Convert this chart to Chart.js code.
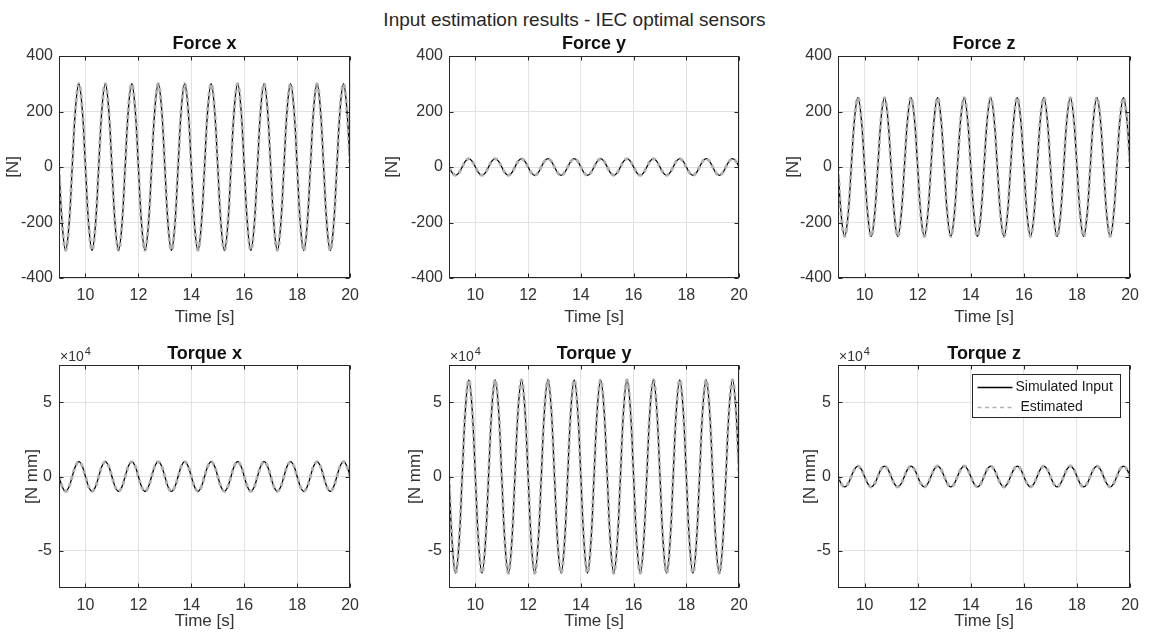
<!DOCTYPE html>
<html>
<head>
<meta charset="utf-8">
<script src="https://cdn.jsdelivr.net/npm/chart.js@4.4.0/dist/chart.umd.min.js"></script>
<style>
  body { margin: 0; background: #fff; width: 1149px; height: 632px; position: relative; overflow: hidden; font-family: "Liberation Sans", Arial, sans-serif; }
  #suptitle { position: absolute; left: 0; top: 10px; width: 1149px; text-align: center; font-size: 19px; line-height: 1; color: #262626; }
  .cell { position: absolute; }
</style>
</head>
<body>
<div id="suptitle">Input estimation results - IEC optimal sensors</div>
<script>
// Time axis, 1/8 s steps
const time = [
  9, 9.125, 9.25, 9.375, 9.5, 9.625, 9.75, 9.875,
  10, 10.125, 10.25, 10.375, 10.5, 10.625, 10.75, 10.875,
  11, 11.125, 11.25, 11.375, 11.5, 11.625, 11.75, 11.875,
  12, 12.125, 12.25, 12.375, 12.5, 12.625, 12.75, 12.875,
  13, 13.125, 13.25, 13.375, 13.5, 13.625, 13.75, 13.875,
  14, 14.125, 14.25, 14.375, 14.5, 14.625, 14.75, 14.875,
  15, 15.125, 15.25, 15.375, 15.5, 15.625, 15.75, 15.875,
  16, 16.125, 16.25, 16.375, 16.5, 16.625, 16.75, 16.875,
  17, 17.125, 17.25, 17.375, 17.5, 17.625, 17.75, 17.875,
  18, 18.125, 18.25, 18.375, 18.5, 18.625, 18.75, 18.875,
  19, 19.125, 19.25, 19.375, 19.5, 19.625, 19.75, 19.875,
  20
];

// Force [N]
const forceX = [
  0, -212, -300, -212, 0, 212, 300, 212,
  0, -212, -300, -212, 0, 212, 300, 212,
  0, -212, -300, -212, 0, 212, 300, 212,
  0, -212, -300, -212, 0, 212, 300, 212,
  0, -212, -300, -212, 0, 212, 300, 212,
  0, -212, -300, -212, 0, 212, 300, 212,
  0, -212, -300, -212, 0, 212, 300, 212,
  0, -212, -300, -212, 0, 212, 300, 212,
  0, -212, -300, -212, 0, 212, 300, 212,
  0, -212, -300, -212, 0, 212, 300, 212,
  0, -212, -300, -212, 0, 212, 300, 212,
  0
];
const forceY = [
  0, -21, -30, -21, 0, 21, 30, 21,
  0, -21, -30, -21, 0, 21, 30, 21,
  0, -21, -30, -21, 0, 21, 30, 21,
  0, -21, -30, -21, 0, 21, 30, 21,
  0, -21, -30, -21, 0, 21, 30, 21,
  0, -21, -30, -21, 0, 21, 30, 21,
  0, -21, -30, -21, 0, 21, 30, 21,
  0, -21, -30, -21, 0, 21, 30, 21,
  0, -21, -30, -21, 0, 21, 30, 21,
  0, -21, -30, -21, 0, 21, 30, 21,
  0, -21, -30, -21, 0, 21, 30, 21,
  0
];
const forceZ = [
  0, -177, -250, -177, 0, 177, 250, 177,
  0, -177, -250, -177, 0, 177, 250, 177,
  0, -177, -250, -177, 0, 177, 250, 177,
  0, -177, -250, -177, 0, 177, 250, 177,
  0, -177, -250, -177, 0, 177, 250, 177,
  0, -177, -250, -177, 0, 177, 250, 177,
  0, -177, -250, -177, 0, 177, 250, 177,
  0, -177, -250, -177, 0, 177, 250, 177,
  0, -177, -250, -177, 0, 177, 250, 177,
  0, -177, -250, -177, 0, 177, 250, 177,
  0, -177, -250, -177, 0, 177, 250, 177,
  0
];

// Torque [N mm]
const torqueX = [
  0, -7070, -10000, -7070, 0, 7070, 10000, 7070,
  0, -7070, -10000, -7070, 0, 7070, 10000, 7070,
  0, -7070, -10000, -7070, 0, 7070, 10000, 7070,
  0, -7070, -10000, -7070, 0, 7070, 10000, 7070,
  0, -7070, -10000, -7070, 0, 7070, 10000, 7070,
  0, -7070, -10000, -7070, 0, 7070, 10000, 7070,
  0, -7070, -10000, -7070, 0, 7070, 10000, 7070,
  0, -7070, -10000, -7070, 0, 7070, 10000, 7070,
  0, -7070, -10000, -7070, 0, 7070, 10000, 7070,
  0, -7070, -10000, -7070, 0, 7070, 10000, 7070,
  0, -7070, -10000, -7070, 0, 7070, 10000, 7070,
  0
];
const torqueY = [
  0, -45960, -65000, -45960, 0, 45960, 65000, 45960,
  0, -45960, -65000, -45960, 0, 45960, 65000, 45960,
  0, -45960, -65000, -45960, 0, 45960, 65000, 45960,
  0, -45960, -65000, -45960, 0, 45960, 65000, 45960,
  0, -45960, -65000, -45960, 0, 45960, 65000, 45960,
  0, -45960, -65000, -45960, 0, 45960, 65000, 45960,
  0, -45960, -65000, -45960, 0, 45960, 65000, 45960,
  0, -45960, -65000, -45960, 0, 45960, 65000, 45960,
  0, -45960, -65000, -45960, 0, 45960, 65000, 45960,
  0, -45960, -65000, -45960, 0, 45960, 65000, 45960,
  0, -45960, -65000, -45960, 0, 45960, 65000, 45960,
  0
];
const torqueZ = [
  0, -4950, -7000, -4950, 0, 4950, 7000, 4950,
  0, -4950, -7000, -4950, 0, 4950, 7000, 4950,
  0, -4950, -7000, -4950, 0, 4950, 7000, 4950,
  0, -4950, -7000, -4950, 0, 4950, 7000, 4950,
  0, -4950, -7000, -4950, 0, 4950, 7000, 4950,
  0, -4950, -7000, -4950, 0, 4950, 7000, 4950,
  0, -4950, -7000, -4950, 0, 4950, 7000, 4950,
  0, -4950, -7000, -4950, 0, 4950, 7000, 4950,
  0, -4950, -7000, -4950, 0, 4950, 7000, 4950,
  0, -4950, -7000, -4950, 0, 4950, 7000, 4950,
  0, -4950, -7000, -4950, 0, 4950, 7000, 4950,
  0
];

const xTicks = [10, 12, 14, 16, 18, 20];
const forceTicks = [-400, -200, 0, 200, 400];
const torqueTicks = [-50000, 0, 50000];

const FONT = '"Liberation Sans", Arial, sans-serif';
const TEXT = '#333333';
const AXIS = '#262626';
const GRID = '#e2e2e2';
const PAD_L = 70, PAD_T = 45, PAD_R = 14, PAD_B = 50;

// Box, inward ticks, title, exponent and legend (MATLAB look)
const framePlugin = {
  id: 'frame',
  afterDraw(chart, args, opts) {
    const { ctx, chartArea: a, scales: { x, y } } = chart;
    ctx.save();
    const L = Math.round(a.left) + 0.5, R = Math.round(a.right) - 0.5;
    const T = Math.round(a.top) + 0.5, B = Math.round(a.bottom) - 0.5;
    ctx.strokeStyle = AXIS;
    ctx.lineWidth = 1;
    ctx.strokeRect(L, T, R - L, B - T);
    ctx.beginPath();
    x.ticks.forEach(t => {
      const px = Math.round(x.getPixelForValue(t.value)) + 0.5;
      ctx.moveTo(px, B); ctx.lineTo(px, B - 4);
      ctx.moveTo(px, T); ctx.lineTo(px, T + 4);
    });
    y.ticks.forEach(t => {
      const py = Math.round(y.getPixelForValue(t.value)) + 0.5;
      ctx.moveTo(L, py); ctx.lineTo(L + 4, py);
      ctx.moveTo(R, py); ctx.lineTo(R - 4, py);
    });
    ctx.stroke();

    ctx.fillStyle = '#111';
    ctx.font = `bold 18px ${FONT}`;
    ctx.textAlign = 'center';
    ctx.textBaseline = 'alphabetic';
    ctx.fillText(opts.title, (a.left + a.right) / 2, a.top - opts.titleGap);

    if (opts.exponent) {
      ctx.fillStyle = TEXT;
      ctx.textAlign = 'left';
      ctx.font = `14px ${FONT}`;
      const base = '\u00d710';
      ctx.fillText(base, a.left + 1, a.top - 4);
      const bw = ctx.measureText(base).width;
      ctx.font = `11px ${FONT}`;
      ctx.fillText('4', a.left + 2 + bw, a.top - 10);
    }

    if (opts.legend) {
      const bx = Math.round(a.right) - 157.5, by = Math.round(a.top) + 9.5, bw = 148, bh = 43;
      ctx.fillStyle = '#fff';
      ctx.fillRect(bx, by, bw, bh);
      ctx.strokeStyle = AXIS;
      ctx.strokeRect(bx, by, bw, bh);
      ctx.font = `14px ${FONT}`;
      ctx.textBaseline = 'middle';
      ctx.textAlign = 'left';
      const rows = [13, 33], textX = [43, 48];
      chart.data.datasets.forEach((ds, i) => {
        const ly = by + rows[i];
        ctx.save();
        ctx.strokeStyle = ds.borderColor;
        ctx.lineWidth = 1.5;
        ctx.setLineDash(ds.borderDash || []);
        ctx.beginPath();
        ctx.moveTo(bx + 5, ly); ctx.lineTo(bx + 40, ly);
        ctx.stroke();
        ctx.restore();
        ctx.fillStyle = '#1a1a1a';
        ctx.fillText(ds.label, bx + textX[i], ly);
      });
    }
    ctx.restore();
  }
};

const subplots = [
  { title: 'Force x', values: forceX, left: 59, top: 56, w: 296, h: 222, min: -400, max: 400, ticks: forceTicks, ylabel: '[N]', yPad: 15.5, xPad: 2.5, tickPad: 6, scaleE4: false },
  { title: 'Force y', values: forceY, left: 449, top: 56, w: 295, h: 222, min: -400, max: 400, ticks: forceTicks, ylabel: '[N]', yPad: 4.5, xPad: 2.5, tickPad: 6, scaleE4: false },
  { title: 'Force z', values: forceZ, left: 838, top: 56, w: 297, h: 222, min: -400, max: 400, ticks: forceTicks, ylabel: '[N]', yPad: 16.5, xPad: 2.5, tickPad: 6, scaleE4: false },
  { title: 'Torque x', values: torqueX, left: 59, top: 365, w: 296, h: 223, min: -75000, max: 75000, ticks: torqueTicks, ylabel: '[N mm]', yPad: 34.5, xPad: 7.8, tickPad: 7, scaleE4: true },
  { title: 'Torque y', values: torqueY, left: 449, top: 365, w: 295, h: 223, min: -75000, max: 75000, ticks: torqueTicks, ylabel: '[N mm]', yPad: 28, xPad: 7.8, tickPad: 7, scaleE4: true },
  { title: 'Torque z', values: torqueZ, left: 838, top: 365, w: 297, h: 223, min: -75000, max: 75000, ticks: torqueTicks, ylabel: '[N mm]', yPad: 34, xPad: 7.8, tickPad: 7, scaleE4: true, legend: true }
];

subplots.forEach(sp => {
  const w = sp.w + PAD_L + PAD_R, h = sp.h + PAD_T + PAD_B;
  const wrap = document.createElement('div');
  wrap.className = 'cell';
  wrap.style.cssText = `left:${sp.left - PAD_L}px;top:${sp.top - PAD_T}px;width:${w}px;height:${h}px;`;
  const cv = document.createElement('canvas');
  cv.width = w; cv.height = h;
  cv.style.width = w + 'px'; cv.style.height = h + 'px';
  wrap.appendChild(cv);
  document.body.appendChild(wrap);

  const pts = time.map((t, i) => ({ x: t, y: sp.values[i] }));

  new Chart(cv.getContext('2d'), {
    type: 'line',
    data: {
      datasets: [
        { label: 'Simulated Input', data: pts, borderColor: '#000000', borderWidth: 1.3, pointRadius: 0, tension: 0.4, order: 2 },
        { label: 'Estimated', data: pts, borderColor: '#b0b0b0', borderWidth: 3, borderDash: [4, 3.5], pointRadius: 0, tension: 0.4, order: 1 }
      ]
    },
    options: {
      responsive: false,
      animation: false,
      devicePixelRatio: 1,
      layout: { padding: { left: 0, top: PAD_T, right: PAD_R, bottom: 0 } },
      plugins: {
        legend: { display: false },
        tooltip: { enabled: false },
        frame: { title: sp.title, titleGap: sp.scaleE4 ? 6 : 7, exponent: sp.scaleE4, legend: !!sp.legend }
      },
      scales: {
        x: {
          type: 'linear', min: 9, max: 20,
          afterBuildTicks: s => { s.ticks = xTicks.map(v => ({ value: v })); },
          afterFit: s => { s.height = PAD_B; },
          grid: { color: GRID, drawTicks: false },
          border: { display: false },
          ticks: { padding: 10, color: TEXT, autoSkip: false, maxRotation: 0, font: { family: FONT, size: 16, lineHeight: 1 } },
          title: { display: true, text: 'Time [s]', color: TEXT, padding: { top: 0, bottom: sp.xPad }, font: { family: FONT, size: 17, lineHeight: 1 } }
        },
        y: {
          type: 'linear', min: sp.min, max: sp.max,
          afterBuildTicks: s => { s.ticks = sp.ticks.map(v => ({ value: v })); },
          afterFit: s => { s.width = PAD_L; },
          grid: { color: GRID, drawTicks: false },
          border: { display: false },
          ticks: {
            padding: sp.tickPad, color: TEXT, font: { family: FONT, size: 16, lineHeight: 1 },
            callback: v => sp.scaleE4 ? String(v / 10000) : String(v)
          },
          title: { display: true, text: sp.ylabel, color: TEXT, padding: { top: sp.yPad, bottom: 0 }, font: { family: FONT, size: 17, lineHeight: 1 } }
        }
      }
    },
    plugins: [framePlugin]
  });
});
</script>
</body>
</html>
